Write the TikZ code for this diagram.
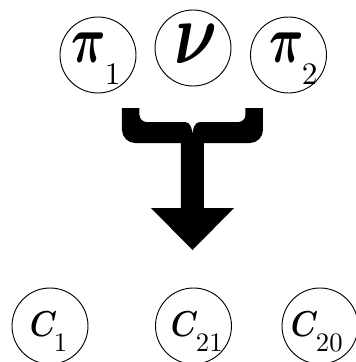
\documentclass[tikz,border=0pt]{standalone}
\usepackage{graphicx}
\begin{document}
\begin{tikzpicture}[x=0.75pt,y=-0.75pt,
  circ/.style={circle,draw,line width=0.7pt,minimum size=57pt,inner sep=0pt},
  sym/.style={anchor=base west,inner sep=0pt,outer sep=0pt}]
\useasboundingbox (0,0) rectangle (355,362);
% circles
\node[circ] (p1) at (98,55) {};
\node[circ] (nu) at (193,48) {};
\node[circ] (p2) at (288.5,55) {};
\node[circ] (c1) at (50,326) {};
\node[circ] (c21) at (193.5,326) {};
\node[circ] (c20) at (320,326) {};
% labels
\node[sym] (p1s) at (72,62) {\scalebox{3.6}[5.0]{\boldmath$\pi$}};
\node[sym] (p1n) at (105,84) {\scalebox{2.35}{1}};
\node[sym] (nus) at (175,63) {\scalebox{5.0}[6.6]{\boldmath$\nu$}};
\node[sym] (p2s) at (270,62) {\scalebox{3.6}[5.0]{\boldmath$\pi$}};
\node[sym] (p2n) at (302,84) {\scalebox{2.35}{2}};
\node[sym] (c1s) at (30,336) {\scalebox{2.3}[2.7]{\boldmath$C$}};
\node[sym] (c1n) at (54,351) {\scalebox{2.0}{1}};
\node[sym] (c21s) at (171,336) {\scalebox{2.3}[2.7]{\boldmath$C$}};
\node[sym] (c21n) at (196,351) {\scalebox{2.0}{21}};
\node[sym] (c20s) at (291,336) {\scalebox{2.3}[2.7]{\boldmath$C$}};
\node[sym] (c20n) at (316,351) {\scalebox{2.0}{20}};
% merge arrow
\fill[black] (122,108) -- (122,130) .. controls (122,137) and (128,143) .. (135,143)
  -- (181,143) -- (181,208) -- (151,208) -- (192.5,250) -- (234,208) -- (204,208)
  -- (204,143) -- (250,143) .. controls (257,143) and (263,137) .. (263,130)
  -- (263,108) -- (245.5,108) -- (245.5,115) .. controls (245.5,119) and (242,122) .. (238.5,122)
  -- (200,122) .. controls (195,122) and (192.5,128) .. (192.5,137)
  .. controls (192.5,128) and (190,122) .. (185,122)
  -- (146.5,122) .. controls (143,122) and (139.5,119) .. (139.5,115)
  -- (139.5,108) -- cycle;
\end{tikzpicture}
\end{document}
